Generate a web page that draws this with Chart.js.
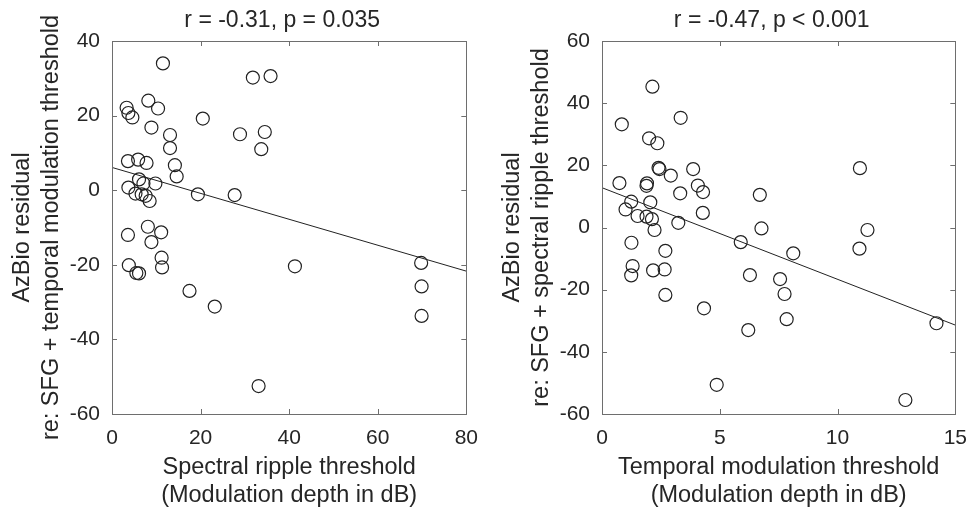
<!DOCTYPE html>
<html>
<head>
<meta charset="utf-8">
<script src="https://cdn.jsdelivr.net/npm/chart.js@4/dist/chart.umd.min.js"></script>
<style>
  html, body { margin: 0; padding: 0; background: #fff; }
  #wrap { position: relative; width: 979px; height: 510px; }
  canvas { position: absolute; top: 0; }
</style>
</head>
<body>
<div id="wrap">
  <canvas id="leftChart" width="490" height="510" style="left:0"></canvas>
  <canvas id="rightChart" width="489" height="510" style="left:490px"></canvas>
</div>
<script>
// Left panel: spectral ripple threshold vs AzBio residual
const leftX = [11.5, 31.8, 35.8, 8.2, 10.4, 3.3, 3.7, 4.6, 20.5, 8.9,
  13.1, 28.9, 34.5, 33.7, 13.1, 3.6, 5.9, 7.8, 14.2, 14.6,
  6.1, 7.1, 9.8, 3.7, 5.3, 6.7, 7.6, 8.5, 19.4, 27.7,
  8.1, 11.1, 3.6, 8.9, 3.8, 5.5, 6.1, 11.2, 11.3, 17.5,
  23.2, 33.1, 41.3, 69.8, 69.9, 69.9];
const leftY = [34.0, 30.2, 30.6, 24.0, 21.9, 22.1, 20.7, 19.5, 19.2, 16.8,
  14.8, 15.0, 15.6, 11.0, 11.3, 7.8, 8.2, 7.3, 6.7, 3.7,
  2.9, 1.8, 1.8, 0.7, -0.9, -1.1, -1.5, -2.9, -1.1, -1.3,
  -9.8, -11.3, -12.0, -13.9, -20.1, -22.2, -22.3, -18.1, -20.7, -27.0,
  -31.2, -52.5, -20.4, -19.5, -25.8, -33.7];
const leftFitX = [0, 80];
const leftFitY = [6.1, -21.7];
const leftXTicks = [0, 20, 40, 60, 80];
const leftYTicks = [-60, -40, -20, 0, 20, 40];

// Right panel: temporal modulation threshold vs AzBio residual
const rightX = [2.14, 0.84, 3.34, 2.0, 2.35, 2.4, 2.44, 2.92, 3.87, 0.74,
  1.91, 1.89, 4.07, 4.29, 3.32, 6.7, 1.24, 2.05, 1.0, 1.51,
  1.89, 2.12, 4.28, 3.24, 2.23, 6.77, 1.25, 2.69, 5.89, 1.30,
  1.24, 2.17, 2.66, 6.28, 2.69, 4.33, 6.21, 4.87, 10.95, 11.27,
  10.93, 8.12, 7.56, 7.75, 7.84, 14.2, 12.88];
const rightY = [45.3, 33.2, 35.3, 28.7, 27.1, 19.2, 18.8, 16.7, 18.8, 14.3,
  14.2, 13.4, 13.5, 11.4, 11.0, 10.5, 8.3, 8.1, 5.8, 3.7,
  3.5, 2.7, 4.7, 1.5, -0.8, -0.3, -4.9, -7.5, -4.7, -12.4,
  -15.4, -13.8, -13.5, -15.3, -21.7, -26.0, -33.0, -50.6, 19.1, -0.8,
  -6.8, -8.3, -16.6, -21.4, -29.5, -30.8, -55.5];
const rightFitX = [0, 15];
const rightFitY = [12.8, -31.4];
const rightXTicks = [0, 5, 10, 15];
const rightYTicks = [-60, -40, -20, 0, 20, 40, 60];

const FONT = '"Liberation Sans", Arial, Helvetica, sans-serif';
const TEXT = '#262626';
const AXIS = '#6e6e6e';

// MATLAB style box with inward ticks on all four sides
const boxTicks = {
  id: 'boxTicks',
  afterLayout(chart) {
    // title sits a little left of the axes centre in the original
    const t = chart.titleBlock;
    if (t) { t.left -= 7; t.right -= 7; }
  },
  afterDraw(chart) {
    const { ctx, chartArea: a, scales } = chart;
    const len = 5;
    ctx.save();
    ctx.strokeStyle = AXIS;
    ctx.lineWidth = 1;
    ctx.beginPath();
    scales.x.ticks.forEach(t => {
      const px = Math.round(scales.x.getPixelForValue(t.value)) + 0.5;
      ctx.moveTo(px, a.bottom); ctx.lineTo(px, a.bottom - len);
      ctx.moveTo(px, a.top); ctx.lineTo(px, a.top + len);
    });
    scales.y.ticks.forEach(t => {
      const py = Math.round(scales.y.getPixelForValue(t.value)) + 0.5;
      ctx.moveTo(a.left, py); ctx.lineTo(a.left + len, py);
      ctx.moveTo(a.right, py); ctx.lineTo(a.right - len, py);
    });
    ctx.stroke();
    ctx.strokeRect(Math.round(a.left) + 0.5, Math.round(a.top) + 0.5,
      Math.round(a.right - a.left), Math.round(a.bottom - a.top));
    ctx.restore();
  }
};

function makeScatter(canvasId, xs, ys, fitX, fitY, xTicks, yTicks, title, xTitle, yTitle, rightPad) {
  const points = xs.map((x, i) => ({ x: x, y: ys[i] }));
  const fit = fitX.map((x, i) => ({ x: x, y: fitY[i] }));

  return new Chart(document.getElementById(canvasId), {
    type: 'scatter',
    data: {
      datasets: [
        {
          data: points,
          pointStyle: 'circle',
          pointRadius: 6.5,
          pointBorderWidth: 1.2,
          pointBorderColor: '#222',
          pointBackgroundColor: 'rgba(0,0,0,0)'
        },
        {
          data: fit,
          showLine: true,
          borderColor: '#222',
          borderWidth: 1,
          pointRadius: 0
        }
      ]
    },
    options: {
      responsive: false,
      animation: false,
      layout: { padding: { left: 0, right: rightPad, top: 0, bottom: 0 } },
      plugins: {
        legend: { display: false },
        tooltip: { enabled: false },
        title: {
          display: true,
          text: title,
          fullSize: false,
          color: TEXT,
          font: { family: FONT, size: 23, weight: 'normal', lineHeight: 1.2 },
          padding: { top: 7.2, bottom: 6.2 }
        }
      },
      scales: {
        x: {
          type: 'linear',
          min: xTicks[0],
          max: xTicks[xTicks.length - 1],
          afterBuildTicks: (scale) => { scale.ticks = xTicks.map(v => ({ value: v })); },
          afterFit: (scale) => { scale.height = 96; },
          grid: { display: false, drawTicks: false },
          border: { display: false },
          ticks: { color: TEXT, padding: 12, font: { family: FONT, size: 21 } },
          title: {
            display: true,
            text: xTitle,
            color: TEXT,
            font: { family: FONT, size: 23.5, lineHeight: 1.2 },
            padding: { top: 0, bottom: 0 }
          }
        },
        y: {
          type: 'linear',
          min: yTicks[0],
          max: yTicks[yTicks.length - 1],
          afterBuildTicks: (scale) => { scale.ticks = yTicks.map(v => ({ value: v })); },
          afterFit: (scale) => { scale.width = 112; },
          grid: { display: false, drawTicks: false },
          border: { display: false },
          ticks: { color: TEXT, padding: 12, font: { family: FONT, size: 21 } },
          title: {
            display: true,
            text: yTitle,
            color: TEXT,
            font: { family: FONT, size: 23.5, lineHeight: 1.22 },
            padding: { top: 8.6, bottom: 0 }
          }
        }
      }
    },
    plugins: [boxTicks]
  });
}

makeScatter('leftChart', leftX, leftY, leftFitX, leftFitY, leftXTicks, leftYTicks,
  'r = -0.31, p = 0.035',
  ['Spectral ripple threshold', '(Modulation depth in dB)'],
  ['AzBio residual', 're: SFG + temporal modulation threshold'], 22);

makeScatter('rightChart', rightX, rightY, rightFitX, rightFitY, rightXTicks, rightYTicks,
  'r = -0.47, p < 0.001',
  ['Temporal modulation threshold', '(Modulation depth in dB)'],
  ['AzBio residual', 're: SFG + spectral ripple threshold'], 20);
</script>
</body>
</html>
